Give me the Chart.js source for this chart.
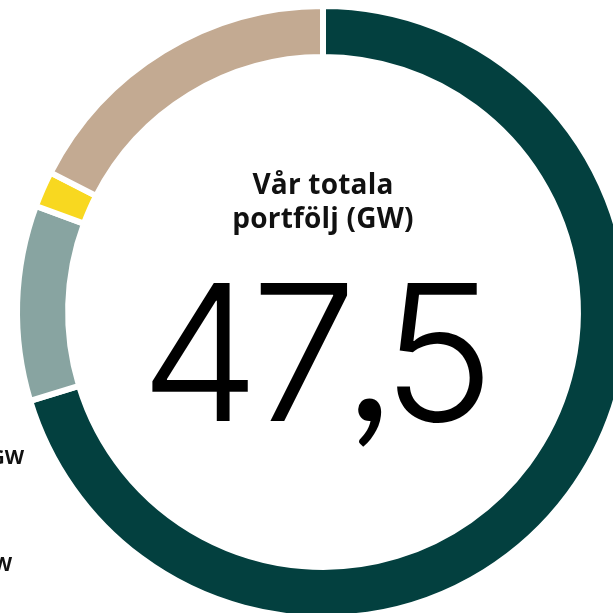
<!DOCTYPE html>
<html>
<head>
<meta charset="utf-8">
<script src="https://cdn.jsdelivr.net/npm/chart.js@4/dist/chart.umd.min.js"></script>
<style>
  html, body { margin: 0; padding: 0; background: #fff; width: 613px; height: 613px; overflow: hidden; }
  #wrap { position: absolute; left: -27px; top: -38px; width: 700px; height: 700px; }
  .title { position: absolute; left: 173px; width: 300px; top: 166px; text-align: center;
    font-family: "Open Sans", sans-serif; font-weight: 700; font-size: 28px; line-height: 34px; color: #111; letter-spacing: 0.2px; }
  .total { position: absolute; left: 113px; width: 400px; top: 237px; text-align: center;
    font-family: Inter, sans-serif; font-weight: 350; font-size: 190px; line-height: 220px; color: #000; letter-spacing: -9px; }
  .total .sep { font-family: Lato, sans-serif; font-weight: 400; }
  .leg { position: absolute; font-family: "Open Sans", sans-serif; font-weight: 700; font-size: 20px; color: #111; white-space: nowrap; }
</style>
</head>
<body>
<div id="wrap"><canvas id="myChart"></canvas></div>
<div class="title">Vår totala<br>portfölj (GW)</div>
<div class="total" id="total"></div>
<div class="leg" style="right:589px; top:443px;">4,9 GW</div>
<div class="leg" style="right:601px; top:550px;">0,9 GW</div>
<script>
const labels = ["Vattenkraft", "Vindkraft", "Sol", "Övrigt"];
const values = [33.4, 8.3, 0.9, 4.9];
const colors = ["#03403f", "#c3aa92", "#f8d820", "#88a4a1"];

// order drawn clockwise from top: green, then round to grey, yellow, tan
const drawOrder = [0, 3, 2, 1];

const total = values.reduce((a, b) => a + b, 0);
const parts = total.toFixed(1).split(".");
document.getElementById("total").innerHTML = parts[0] + '<span class="sep">,</span>' + parts[1];

const ctx = document.getElementById("myChart");
new Chart(ctx, {
  type: "doughnut",
  data: {
    labels: drawOrder.map(i => labels[i]),
    datasets: [{
      data: drawOrder.map(i => values[i]),
      backgroundColor: drawOrder.map(i => colors[i]),
      borderColor: "#ffffff",
      borderWidth: 6
    }]
  },
  options: {
    responsive: true,
    maintainAspectRatio: false,
    animation: false,
    radius: 306,
    cutout: "83.3%",
    plugins: {
      legend: { display: false },
      tooltip: { enabled: false }
    }
  }
});
</script>
</body>
</html>
